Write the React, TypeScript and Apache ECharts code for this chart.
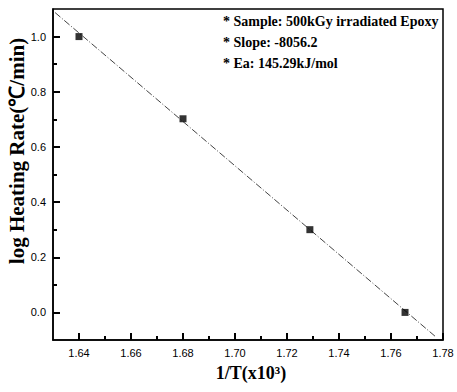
import React, { useEffect, useRef } from "react";
import * as echarts from "echarts";

const pointX = [1.64, 1.68, 1.7288, 1.7654];
const pointY = [1.0, 0.702, 0.3, 0.0];
const fitX = [1.6308, 1.7769];
const fitY = [1.087, -0.086];
const xMin = 1.63;
const xMax = 1.78;
const yMin = -0.1;
const yMax = 1.1;
const xMajorTicks = [1.64, 1.66, 1.68, 1.7, 1.72, 1.74, 1.76, 1.78];
const xMinorTicks = [1.65, 1.67, 1.69, 1.71, 1.73, 1.75, 1.77];
const yMajorTicks = [0.0, 0.2, 0.4, 0.6, 0.8, 1.0];
const yMinorTicks = [0.1, 0.3, 0.5, 0.7, 0.9];
const notes = [
  "* Sample: 500kGy irradiated Epoxy",
  "* Slope: -8056.2",
  "* Ea: 145.29kJ/mol",
];
const xTitle = "1/T(x10³)";
const yTitle = "log Heating Rate(℃/min)";

const labelFont = "'Liberation Sans Narrow', 'Liberation Sans', Arial, sans-serif";
const serif = "'Liberation Serif', 'Times New Roman', serif";

const MAJOR = 7;
const MINOR = 4;

export default function App() {
  const ref = useRef<HTMLDivElement>(null);
  useEffect(() => {
    if (!ref.current) return;
    const chart = echarts.init(ref.current, null, { renderer: "svg" });
    chart.setOption({
      animation: false,
      grid: {
        left: 53,
        right: 14,
        top: 9,
        bottom: 52,
        show: true,
        borderColor: "#000",
        borderWidth: 1.5,
      },
      xAxis: [
        {
          type: "value",
          min: xMin,
          max: xMax,
          interval: 0.01,
          splitLine: { show: false },
          axisLine: { onZero: false, lineStyle: { color: "#000", width: 1.5 } },
          axisTick: {
            show: true,
            inside: true,
            length: MAJOR,
            customValues: xMajorTicks,
            lineStyle: { color: "#000", width: 2 },
          },
          axisLabel: {
            customValues: xMajorTicks,
            formatter: (v: number) => v.toFixed(2),
            color: "#000",
            fontSize: 11,
            fontFamily: labelFont,
            margin: 7,
          },
        },
        {
          type: "value",
          position: "bottom",
          min: xMin,
          max: xMax,
          interval: 0.01,
          splitLine: { show: false },
          axisLine: { show: false, onZero: false },
          axisTick: {
            show: true,
            inside: true,
            length: MINOR,
            customValues: xMinorTicks,
            lineStyle: { color: "#000", width: 2 },
          },
          axisLabel: { show: false },
        },
      ],
      yAxis: [
        {
          type: "value",
          min: yMin,
          max: yMax,
          interval: 0.1,
          splitLine: { show: false },
          axisLine: { show: true, onZero: false, lineStyle: { color: "#000", width: 1.5 } },
          axisTick: {
            show: true,
            inside: true,
            length: MAJOR,
            customValues: yMajorTicks,
            lineStyle: { color: "#000", width: 2 },
          },
          axisLabel: {
            customValues: yMajorTicks,
            formatter: (v: number) => v.toFixed(1),
            color: "#000",
            fontSize: 11,
            fontFamily: labelFont,
            margin: 7,
          },
        },
        {
          type: "value",
          position: "left",
          min: yMin,
          max: yMax,
          interval: 0.1,
          splitLine: { show: false },
          axisLine: { show: false, onZero: false },
          axisTick: {
            show: true,
            inside: true,
            length: MINOR,
            customValues: yMinorTicks,
            lineStyle: { color: "#000", width: 2 },
          },
          axisLabel: { show: false },
        },
      ],
      series: [
        {
          type: "line",
          data: fitX.map((x, i) => [x, fitY[i]]),
          showSymbol: false,
          symbol: "none",
          lineStyle: { color: "#444", width: 1, type: [7, 2, 1, 2] },
          silent: true,
          z: 1,
        },
        {
          type: "scatter",
          data: pointX.map((x, i) => [x, pointY[i]]),
          symbol: "rect",
          symbolSize: 7,
          itemStyle: { color: "#000" },
          z: 3,
        },
      ],
      graphic: [
        ...notes.map((t, i) => ({
          type: "text",
          left: 223,
          top: 14 + i * 21,
          style: {
            text: t,
            font: `bold 14px ${serif}`,
            fill: "#000",
          },
        })),
        {
          type: "text",
          x: 251,
          y: 373,
          style: {
            text: xTitle,
            font: `bold 18px ${serif}`,
            fill: "#000",
            align: "center",
            verticalAlign: "middle",
          },
        },
        {
          type: "text",
          x: 17,
          y: 151,
          rotation: Math.PI / 2,
          style: {
            text: yTitle,
            font: `bold 21px ${serif}`,
            fill: "#000",
            align: "center",
            verticalAlign: "middle",
          },
        },
      ],
    });
    return () => chart.dispose();
  }, []);
  return (
    <div
      ref={ref}
      style={{ position: "absolute", left: 0, top: 0, width: 457, height: 392 }}
    />
  );
}
